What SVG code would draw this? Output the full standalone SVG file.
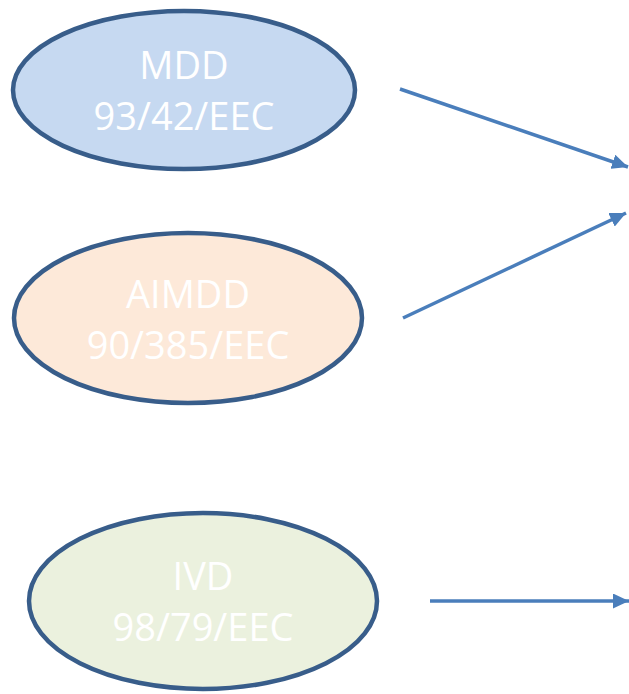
<svg xmlns="http://www.w3.org/2000/svg" width="629" height="694" viewBox="0 0 629 694">
<style>
.n{stroke:#385d8a;stroke-width:4.5}
.t{fill:#ffffff;font-family:"Open Sans","Liberation Sans",sans-serif;font-size:38px;text-anchor:middle}
.c{stroke:#4a7ebb;stroke-width:3.5;fill:none;marker-end:url(#ah)}
</style>
<defs>
<marker id="ah" markerUnits="userSpaceOnUse" markerWidth="17" markerHeight="15" refX="16" refY="7.5" orient="auto">
<path d="M0,0 L16,7.5 L0,15 Z" fill="#4a7ebb"/>
</marker>
</defs>
<g id="mdd">
<ellipse class="n" cx="184" cy="90" rx="171" ry="79" fill="#c6d9f1"/>
<text class="t" x="184" y="79">MDD</text>
<text class="t" x="184" y="130">93/42/EEC</text>
</g>
<g id="aimdd">
<ellipse class="n" cx="188" cy="318" rx="174" ry="85" fill="#fde9d9"/>
<text class="t" x="188" y="308">AIMDD</text>
<text class="t" x="188" y="359">90/385/EEC</text>
</g>
<g id="ivd">
<ellipse class="n" cx="203" cy="601" rx="174" ry="88" fill="#ebf1de"/>
<text class="t" x="203" y="590">IVD</text>
<text class="t" x="203" y="641">98/79/EEC</text>
</g>
<g id="connectors">
<line class="c" x1="400" y1="89" x2="628" y2="167"/>
<line class="c" x1="403" y1="318" x2="626" y2="213"/>
<line class="c" x1="430" y1="601" x2="629" y2="601"/>
</g>
</svg>
